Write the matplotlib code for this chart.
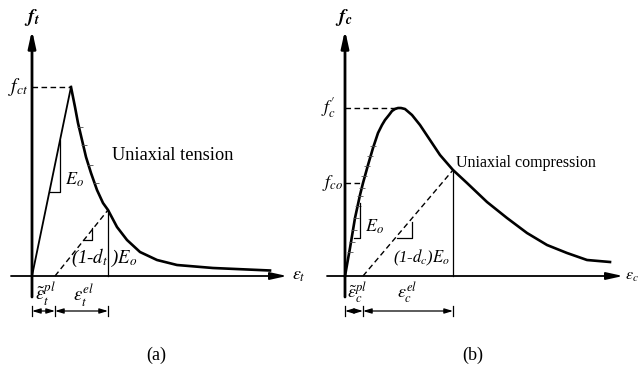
import numpy as np
import matplotlib
matplotlib.use("Agg")
import matplotlib.pyplot as plt

plt.rcParams['font.family'] = ['Liberation Serif', 'DejaVu Serif']
plt.rcParams['mathtext.fontset'] = 'stix'

# ---- tension branch (left panel), strain / stress in arbitrary units ----
t_rise_x = [0, 39]
t_rise_y = [0, 189]
t_soft_x = [39, 41, 43, 46, 50, 54, 59, 65, 71, 76, 85, 95, 108, 125, 145, 181, 238]
t_soft_y = [189, 179, 169, 153, 136, 119, 103, 86, 73, 66, 49, 36, 24, 16, 11, 8, 5.5]
t_unload_x = [23, 76]
t_unload_y = [0, 66]
t_hash_x = [48, 52, 57.5, 63.5]
t_hash_y = [149, 131, 111, 93]
f_ct = 189
eps_t_pl = 23
eps_t_tot = 76

# ---- compression branch (right panel) ----
c_x = [0, 5, 10, 15, 18, 23, 28, 33, 37, 40, 44, 47, 50, 53, 56, 60, 67, 75, 85, 95, 108, 122, 142, 162, 182, 202, 222, 242, 265]
c_y = [0, 28, 58, 81, 93, 111, 128, 143, 151, 156, 161, 165, 167, 168, 168, 167, 161, 151, 136, 121, 106, 93, 74, 58, 43, 31, 23, 16, 14]
c_unload_x = [18, 108]
c_unload_y = [0, 106]
c_hash_x = [4.5, 6.5, 8.5, 10.5, 12.5, 14.5, 16.5, 19, 21.5, 24.5, 28]
c_hash_y = [24, 34, 46, 58, 70, 80, 88, 100, 110, 120, 130]
f_c_peak = 168
f_co = 93
eps_c_pl = 18
eps_c_tot = 108

W, H = 639, 381
fig = plt.figure(figsize=(W / 100, H / 100), dpi=100)
axL = fig.add_axes([0, 0, 320 / W, 1])
axR = fig.add_axes([320 / W, 0, 319 / W, 1])
axL.set_xlim(-32, 288)
axL.set_ylim(-105, 276)
axR.set_xlim(-25, 294)
axR.set_ylim(-105, 276)
for ax in (axL, axR):
    ax.axis('off')

k = 'black'
dash = (0, (4, 2.5))


def axes_arrows(ax, xmin, xmax, ytop):
    ax.annotate('', xy=(0, ytop), xytext=(0, -21),
                arrowprops=dict(arrowstyle='-|>,head_length=1.0,head_width=0.22',
                                lw=2.0, color=k, shrinkA=0, shrinkB=0, mutation_scale=10))
    ax.annotate('', xy=(xmax, 0), xytext=(xmin, 0),
                arrowprops=dict(arrowstyle='-|>,head_length=1.0,head_width=0.22',
                                lw=1.3, color=k, shrinkA=0, shrinkB=0, mutation_scale=10))


def dimension(ax, x0, x1, x2, y=-35):
    for a, b in ((x0, x1), (x1, x2)):
        ax.annotate('', xy=(b, y), xytext=(a, y),
                    arrowprops=dict(arrowstyle='<|-|>,head_length=0.5,head_width=0.15',
                                    lw=0.9, color=k, shrinkA=0, shrinkB=0, mutation_scale=10))
    for xv in (x0, x1, x2):
        ax.plot([xv, xv], [y - 5, y + 5], color=k, lw=0.9)


# ---------------- left: tension ----------------
axes_arrows(axL, -21, 255, 246)
axL.plot(t_rise_x, t_rise_y, color=k, lw=1.3)
axL.plot(t_soft_x, t_soft_y, color=k, lw=1.9, solid_joinstyle='round')
axL.plot(t_hash_x, t_hash_y, ls='none', marker='_', ms=4, mew=0.6, color='0.3')
axL.plot([0, t_soft_x[0]], [f_ct, f_ct], color=k, lw=1.0, ls=dash)
axL.plot(t_unload_x, t_unload_y, color=k, lw=1.0, ls=dash)
axL.plot([eps_t_tot, eps_t_tot], [0, t_unload_y[1]], color=k, lw=0.9)
axL.plot([18, 28, 28], [84, 84, 136], color=k, lw=0.9)
axL.plot([51, 60, 60], [36, 36, 48], color=k, lw=0.9)
dimension(axL, 0, eps_t_pl, eps_t_tot)

axL.text(0, 259, r'$\mathbfit{f}_{\mathbfit{t}}$', fontsize=14, ha='center', va='center')
axL.text(-14, f_ct, r'$f_{ct}$', fontsize=14, ha='center', va='center')
axL.text(33, 96, r'$E_o$', fontsize=13, ha='left', va='center')
axL.text(72, 18, r'(1-$d_t$ )$E_o$', fontsize=13.5, ha='center', va='center', style='italic')
axL.text(141, 121, 'Uniaxial tension', fontsize=13.2, ha='center', va='center')
axL.text(260, 0, r'$\varepsilon_t$', fontsize=13, ha='left', va='center')
axL.text(13, -18, r'$\tilde{\varepsilon}_t^{pl}$', fontsize=13.5, ha='center', va='center')
axL.text(52, -19, r'$\varepsilon_t^{el}$', fontsize=13.5, ha='center', va='center')

# ---------------- right: compression ----------------
axes_arrows(axR, -18, 278, 246)
axR.plot(c_x, c_y, color=k, lw=1.9, solid_joinstyle='round')
axR.plot(c_hash_x, c_hash_y, ls='none', marker='_', ms=4, mew=0.6, color='0.3')
axR.plot([0, 53], [f_c_peak, f_c_peak], color=k, lw=1.0, ls=dash)
axR.plot([0, 18], [f_co, f_co], color=k, lw=1.0, ls=dash)
axR.plot(c_unload_x, c_unload_y, color=k, lw=1.0, ls=dash)
axR.plot([eps_c_tot, eps_c_tot], [0, c_unload_y[1]], color=k, lw=0.9)
axR.plot([9, 15, 15], [38, 38, 73], color=k, lw=0.9)
axR.plot([52, 67, 67], [38, 38, 54], color=k, lw=0.9)
dimension(axR, 0, eps_c_pl, eps_c_tot)

axR.text(-1, 259, r'$\mathbfit{f}_{\mathbfit{c}}$', fontsize=14, ha='center', va='center')
axR.text(-16, f_c_peak, r"$f_c^{\prime}$", fontsize=13, ha='center', va='center')
axR.text(-12, f_co, r'$f_{co}$', fontsize=13, ha='center', va='center')
axR.text(20, 49, r'$E_o$', fontsize=13, ha='left', va='center')
axR.text(76, 18, r'(1-$d_c$)$E_o$', fontsize=12, ha='center', va='center', style='italic')
axR.text(181, 113, 'Uniaxial compression', fontsize=11.5, ha='center', va='center')
axR.text(280, 0, r'$\varepsilon_c$', fontsize=11.5, ha='left', va='center')
axR.text(12, -17, r'$\tilde{\varepsilon}_c^{pl}$', fontsize=13, ha='center', va='center')
axR.text(62, -17, r'$\varepsilon_c^{el}$', fontsize=13, ha='center', va='center')

fig.text(156 / W, 1 - 355 / H, '(a)', fontsize=13, ha='center', va='center')
fig.text(473 / W, 1 - 355 / H, '(b)', fontsize=13, ha='center', va='center')

fig.savefig('out.png', dpi=100)
